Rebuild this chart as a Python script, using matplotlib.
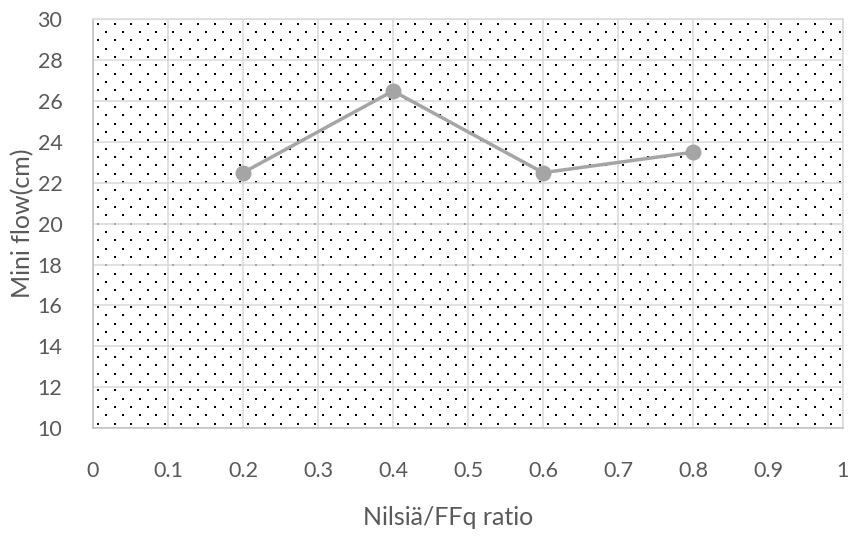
import numpy as np
import matplotlib.pyplot as plt

# Mini flow against the Nilsiä/FFq ratio
ratio = [0.2, 0.4, 0.6, 0.8]
mini_flow = [22.5, 26.5, 22.5, 23.5]

x_ticks = np.arange(0, 1.01, 0.1)
x_tick_labels = ['0', '0.1', '0.2', '0.3', '0.4', '0.5', '0.6', '0.7', '0.8', '0.9', '1']
y_ticks = np.arange(10, 31, 2)

plt.rcParams['font.family'] = ['Lato', 'DejaVu Sans']

fig = plt.figure(figsize=(8.54, 5.38), dpi=100)
ax = fig.add_axes([0.1089, 0.2045, 0.8782, 0.7593])

# dotted "5%" pattern fill of the plot area, laid out in pixel steps
ax_w, ax_h = 750.0, 408.5
px, py = [], []
k = 0
while 4.4 + k * 8.33 < ax_h:
    y0 = 4.4 + k * 8.33
    x0 = 5.0 if k % 2 == 0 else 13.3
    xs = np.arange(x0, ax_w, 16.67)
    px.extend(xs / ax_w)
    py.extend([y0 / ax_h] * len(xs))
    k += 1
ax.scatter(px, py, s=1.3, marker='s', color='black', linewidths=0,
           transform=ax.transAxes, zorder=0.5)

ax.plot(ratio, mini_flow, color='#a5a5a5', linewidth=2.5, marker='o',
        markersize=10.5, zorder=3)

ax.set_xlim(0, 1)
ax.set_ylim(10, 30)
ax.set_xticks(x_ticks)
ax.set_xticklabels(x_tick_labels)
ax.set_yticks(y_ticks)

ax.grid(True, color='#d9d9d9', linewidth=1.1)
ax.set_axisbelow(True)
for side in ['top', 'right']:
    ax.spines[side].set_color('#d9d9d9')
for side in ['left', 'bottom']:
    ax.spines[side].set_color('#bfbfbf')
for sp in ax.spines.values():
    sp.set_linewidth(1.1)

ax.tick_params(length=0, labelsize=15.5, labelcolor='#595959')
ax.tick_params(axis='x', pad=24)
ax.tick_params(axis='y', pad=22)

ax.set_xlabel('Nilsiä/FFq ratio', fontsize=18, color='#595959')
ax.xaxis.set_label_coords(0.4733, -0.192)
ax.set_ylabel('Mini flow(cm)', fontsize=18, color='#595959')
ax.yaxis.set_label_coords(-0.078, 0.5)

fig.savefig('out.png', dpi=100)
